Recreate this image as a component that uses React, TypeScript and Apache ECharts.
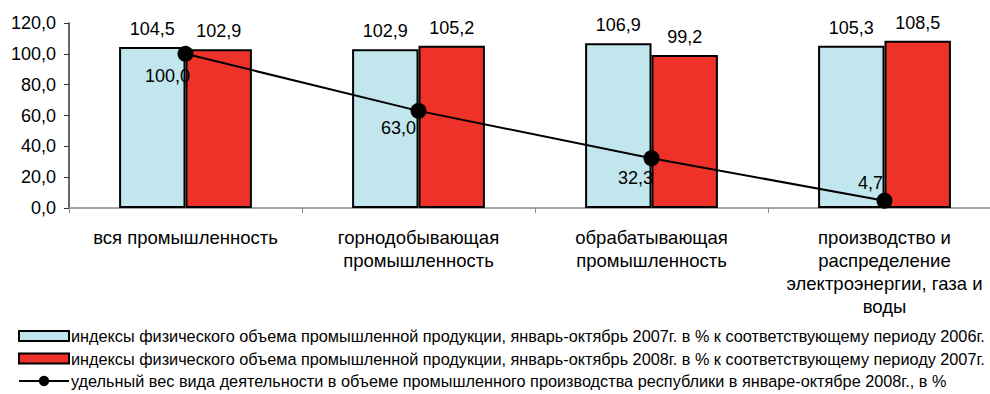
import React, { useEffect, useRef } from "react";
import * as echarts from "echarts";

const categories = [
  "вся промышленность",
  "горнодобывающая\nпромышленность",
  "обрабатывающая\nпромышленность",
  "производство и\nраспределение\nэлектроэнергии, газа и\nводы",
];
const series2007 = [104.5, 102.9, 106.9, 105.3];
const series2008 = [102.9, 105.2, 99.2, 108.5];
const shareValues = [100.0, 63.0, 32.3, 4.7];
const yTicks = [0, 20, 40, 60, 80, 100, 120];

const name2007 =
  "индексы физического объема промышленной продукции, январь-октябрь 2007г. в % к соответствующему периоду 2006г.";
const name2008 =
  "индексы физического объема промышленной продукции, январь-октябрь 2008г. в % к соответствующему периоду 2007г.";
const nameShare =
  "удельный вес вида деятельности в объеме промышленного производства республики в январе-октябре 2008г., в %";

const fmt = (v: number) => v.toFixed(1).replace(".", ",");
const FONT = "'Liberation Sans', Arial, sans-serif";

export default function App() {
  const ref = useRef<HTMLDivElement>(null);
  useEffect(() => {
    if (!ref.current) return;
    const chart = echarts.init(ref.current, null, { renderer: "svg" });
    const lineLabelOffsets: [string, number[]][] = [
      ["bottom", [-18, 5]],
      ["bottom", [-20, 0]],
      ["bottom", [-16, 3]],
      ["top", [-14, -1]],
    ];
    const legendBase = {
      orient: "horizontal",
      left: 18,
      padding: 0,
      itemWidth: 50,
      itemHeight: 10,
      textStyle: {
        fontSize: 16.25,
        color: "#000",
        fontFamily: FONT,
        padding: [0, 0, 0, -3],
      },
    };
    chart.setOption({
      animation: false,
      textStyle: { fontFamily: FONT },
      grid: { left: 69, top: 23, width: 932, bottom: 186, containLabel: false },
      legend: [
        { ...legendBase, top: 328, data: [{ name: name2007, icon: "rect" }] },
        { ...legendBase, top: 350.5, data: [{ name: name2008, icon: "rect" }] },
        { ...legendBase, top: 373, itemHeight: 13, data: [{ name: nameShare }] },
      ],
      xAxis: {
        type: "category",
        data: categories,
        axisLine: { lineStyle: { color: "#888", width: 1.5 } },
        axisTick: { show: true, length: 5, lineStyle: { color: "#888" } },
        axisLabel: {
          fontSize: 18.5,
          color: "#000",
          lineHeight: 23,
          margin: 18,
          interval: 0,
          fontFamily: FONT,
        },
      },
      yAxis: {
        type: "value",
        min: 0,
        max: 120,
        interval: 20,
        splitLine: { show: false },
        axisLine: { show: true, lineStyle: { color: "#333", width: 1.5 } },
        axisTick: { show: true, length: 5, lineStyle: { color: "#333" } },
        axisLabel: {
          fontSize: 18,
          color: "#000",
          margin: 13,
          formatter: (v: number) => (yTicks.includes(v) ? fmt(v) : ""),
          fontFamily: FONT,
        },
      },
      series: [
        {
          name: name2007,
          type: "bar",
          data: series2007,
          barGap: "0%",
          barCategoryGap: "43%",
          itemStyle: { color: "#c2e6ee", borderColor: "#000", borderWidth: 2 },
          label: {
            show: true,
            position: "top",
            distance: 9,
            fontSize: 18,
            color: "#000",
            formatter: (p: any) => fmt(p.value),
            fontFamily: FONT,
          },
        },
        {
          name: name2008,
          type: "bar",
          data: series2008,
          itemStyle: { color: "#ee3129", borderColor: "#000", borderWidth: 2 },
          label: {
            show: true,
            position: "top",
            distance: 9,
            fontSize: 18,
            color: "#000",
            formatter: (p: any) => fmt(p.value),
            fontFamily: FONT,
          },
        },
        {
          name: nameShare,
          type: "line",
          data: shareValues.map((v, i) => ({
            value: v,
            label: {
              position: lineLabelOffsets[i][0],
              offset: lineLabelOffsets[i][1],
            },
          })),
          symbol: "circle",
          symbolSize: 16,
          lineStyle: { color: "#000", width: 2 },
          itemStyle: { color: "#000" },
          z: 5,
          label: {
            show: true,
            distance: 0,
            fontSize: 18,
            color: "#000",
            formatter: (p: any) => fmt(p.value),
            fontFamily: FONT,
          },
        },
      ],
    });
    return () => chart.dispose();
  }, []);
  return (
    <div
      style={{
        position: "fixed",
        left: 0,
        top: 0,
        width: 990,
        height: 394,
        overflow: "hidden",
        background: "#fff",
      }}
    >
      <div ref={ref} style={{ width: 1002, height: 394 }} />
    </div>
  );
}
